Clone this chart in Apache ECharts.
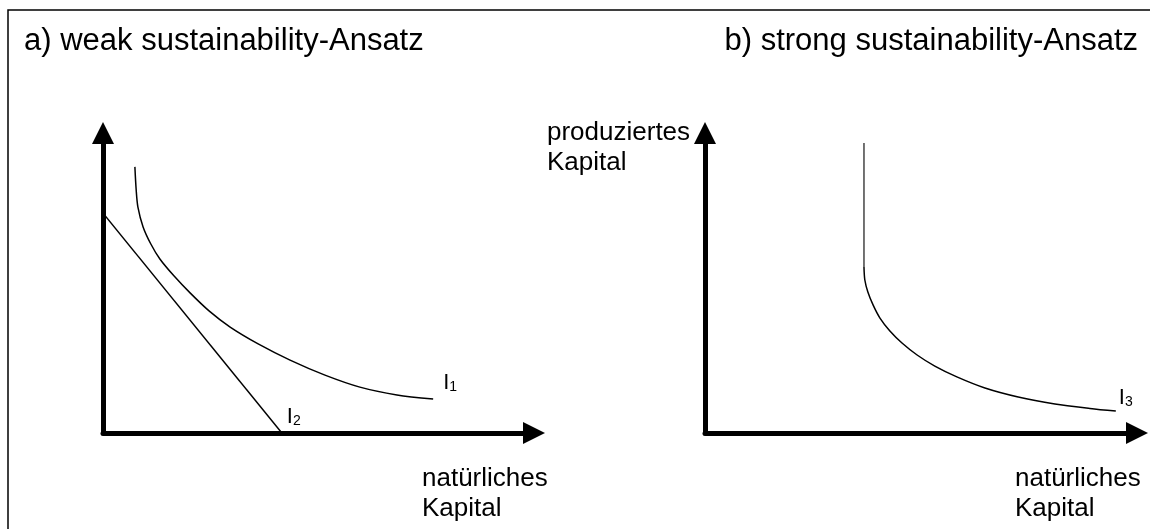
<!DOCTYPE html>
<html>
<head>
<meta charset="utf-8">
<script src="https://cdn.jsdelivr.net/npm/echarts@6/dist/echarts.min.js"></script>
<style>html,body{margin:0;padding:0;background:#fff}#c{width:1150px;height:529px}</style>
</head>
<body>
<div id="c"></div>
<script>
// Panel titles and axis names
const titles = ['a) weak sustainability-Ansatz', 'b) strong sustainability-Ansatz'];
const xAxisName = 'natürliches\nKapital';
const yAxisName = 'produziertes\nKapital';
// Curve labels (subscripts)
const labelsLeft = ['1', '2'];
const labelRight = '3';

// a) weak sustainability: indifference curve I1 (x = natural capital, y = produced capital)
const curveI1 = [[0.74, 8.87], [0.77, 8.10], [0.81, 7.53], [0.93, 6.87], [1.11, 6.30], [1.32, 5.80], [1.65, 5.23],
  [2.02, 4.67], [2.46, 4.07], [2.95, 3.53], [3.60, 2.97], [4.34, 2.43], [5.15, 1.93], [5.96, 1.53], [6.82, 1.27],
  [7.66, 1.13]];
// a) straight line I2
const lineI2 = [[0, 7.33], [4.15, 0]];
// b) strong sustainability: vertical part and curve I3
const verticalI3 = [[3.68, 9.67], [3.68, 5.53]];
const curveI3 = [[3.68, 5.53], [3.70, 5.10], [3.77, 4.70], [3.89, 4.27], [4.05, 3.83], [4.28, 3.40], [4.56, 3.00],
  [4.91, 2.60], [5.32, 2.23], [5.83, 1.87], [6.48, 1.50], [7.25, 1.20], [8.10, 0.97], [8.91, 0.82], [9.51, 0.73]];

const font = '"Liberation Sans", Arial, sans-serif';
const chart = echarts.init(document.getElementById('c'), null, {renderer: 'canvas'});

function axisCommon(extra) {
  return Object.assign({
    type: 'value', min: 0, max: 10,
    axisLine: {show: true, symbol: ['none', 'triangle'], symbolSize: [22, 22], lineStyle: {color: '#000', width: 5}},
    axisTick: {show: false}, axisLabel: {show: false}, splitLine: {show: false}
  }, extra);
}

const richSub = {
  b: {fontSize: 22, fontFamily: font, color: '#000', lineHeight: 22, verticalAlign: 'top'},
  s: {fontSize: 14, fontFamily: font, color: '#000', lineHeight: 14, padding: [12, 0, 0, 0], verticalAlign: 'bottom'}
};
function subLabel(n, offset) {
  return {show: true, formatter: '{b|I}{s|' + n + '}', rich: richSub, distance: 0, offset: offset};
}

const option = {
  animation: false,
  backgroundColor: '#fff',
  grid: [
    {left: 103, top: 133, width: 431, height: 300},
    {left: 705, top: 133, width: 432, height: 300}
  ],
  xAxis: [axisCommon({gridIndex: 0}), axisCommon({gridIndex: 1})],
  yAxis: [axisCommon({gridIndex: 0}), axisCommon({gridIndex: 1})],
  series: [
    {type: 'line', xAxisIndex: 0, yAxisIndex: 0, data: curveI1, smooth: 0.3, symbol: 'none',
      lineStyle: {color: '#000', width: 1.5}, endLabel: subLabel(labelsLeft[0], [10, -16])},
    {type: 'line', xAxisIndex: 0, yAxisIndex: 0, data: lineI2, symbol: 'none',
      lineStyle: {color: '#000', width: 1.5}, endLabel: subLabel(labelsLeft[1], [5, -16])},
    {type: 'line', xAxisIndex: 1, yAxisIndex: 1, data: verticalI3, symbol: 'none',
      lineStyle: {color: '#444', width: 1.5}},
    {type: 'line', xAxisIndex: 1, yAxisIndex: 1, data: curveI3, smooth: 0.3, symbol: 'none',
      lineStyle: {color: '#000', width: 1.5}, endLabel: subLabel(labelRight, [3, -13])}
  ],
  graphic: [
    {type: 'rect', shape: {x: 8, y: 10, width: 1300, height: 700}, style: {fill: 'none', stroke: '#000', lineWidth: 1.5}, silent: true},
    {type: 'text', x: 24, y: 41, style: {text: titles[0], font: '31px ' + font, fill: '#000', textVerticalAlign: 'middle', verticalAlign: 'middle'}},
    {type: 'text', x: 1138, y: 41, style: {text: titles[1], font: '31px ' + font, fill: '#000', align: 'right', textAlign: 'right', verticalAlign: 'middle', textVerticalAlign: 'middle'}},
    {type: 'text', x: 422, y: 464, style: {text: xAxisName, font: '26px ' + font, lineHeight: 30, fill: '#000'}},
    {type: 'text', x: 1015, y: 464, style: {text: xAxisName, font: '26px ' + font, lineHeight: 30, fill: '#000'}},
    {type: 'text', x: 547, y: 118, style: {text: yAxisName, font: '26px ' + font, lineHeight: 30, fill: '#000'}}
  ]
};
chart.setOption(option);
</script>
</body>
</html>
